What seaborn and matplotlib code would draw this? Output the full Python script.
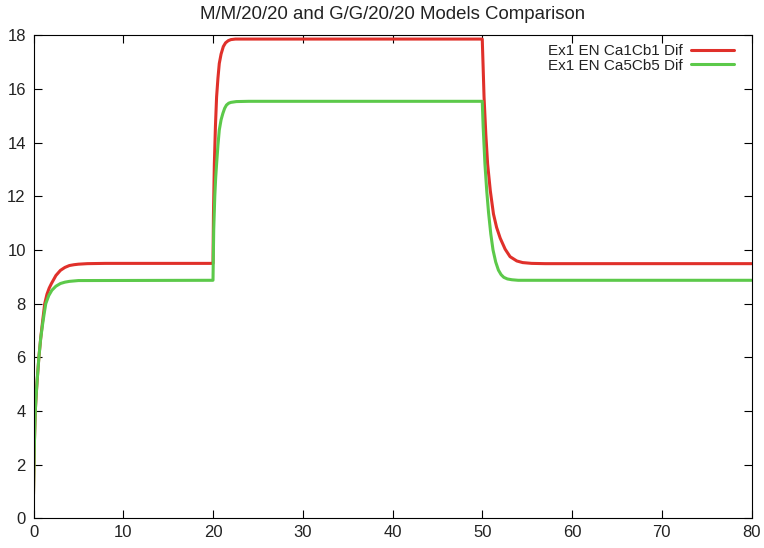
import matplotlib
matplotlib.use("Agg")
import matplotlib.pyplot as plt
import seaborn as sns
import pandas as pd

# ---- data ----
red_label = "Ex1 EN Ca1Cb1 Dif"
green_label = "Ex1 EN Ca5Cb5 Dif"

red_x = [0, 0.1, 0.2, 0.3, 0.4, 0.6, 0.8, 1.0, 1.25, 1.5, 1.75, 2.0, 2.5, 3.0, 3.5, 4.0, 4.5, 5.0, 6.0, 8.0,
         20.0, 20.05, 20.15, 20.27, 20.4, 20.55, 20.7, 20.9, 21.15, 21.4, 21.7, 22.0, 22.5, 24.0,
         50.0, 50.1, 50.2, 50.4, 50.6, 50.9, 51.25, 51.6, 52.0, 52.55, 53.1, 53.85, 54.5, 55.5, 57.0, 80.0]
red_y = [0.9, 2.8, 4.0, 4.6, 5.1, 6.0, 6.7, 7.3, 8.0, 8.35, 8.58, 8.75, 9.05, 9.24, 9.35, 9.42, 9.45, 9.47, 9.49, 9.5,
         9.5, 11.3, 13.2, 14.6, 15.7, 16.4, 16.95, 17.3, 17.58, 17.72, 17.8, 17.84, 17.86, 17.86,
         17.86, 16.8, 15.7, 14.3, 13.2, 12.2, 11.34, 10.84, 10.44, 10.03, 9.75, 9.59, 9.53, 9.5, 9.49, 9.49]

green_x = [0, 0.1, 0.2, 0.3, 0.4, 0.6, 0.8, 1.0, 1.2, 1.37, 1.7, 2.05, 2.5, 3.0, 3.5, 4.0, 5.0,
           20.0, 20.08, 20.2, 20.3, 20.4, 20.55, 20.7, 20.9, 21.1, 21.3, 21.5, 21.75, 22.0, 22.6, 24.0,
           50.0, 50.1, 50.3, 50.5, 50.7, 50.95, 51.2, 51.5, 51.8, 52.1, 52.4, 52.8, 53.3, 54.0, 80.0]
green_y = [0.9, 2.8, 4.0, 4.6, 5.1, 6.0, 6.7, 7.2, 7.65, 8.0, 8.3, 8.5, 8.65, 8.75, 8.8, 8.83, 8.86,
           8.87, 10.75, 12.0, 12.7, 13.2, 13.9, 14.47, 14.85, 15.09, 15.28, 15.4, 15.47, 15.5, 15.53, 15.54,
           15.54, 14.6, 13.2, 12.2, 11.4, 10.6, 10.0, 9.55, 9.25, 9.08, 8.98, 8.92, 8.89, 8.87, 8.87]

x_ticks = [0, 10, 20, 30, 40, 50, 60, 70, 80]
y_ticks = [0, 2, 4, 6, 8, 10, 12, 14, 16, 18]
title = "M/M/20/20 and G/G/20/20 Models Comparison"

# ---- build table ----
df = pd.concat([
    pd.DataFrame({"t": red_x, "v": red_y, "series": red_label}),
    pd.DataFrame({"t": green_x, "v": green_y, "series": green_label}),
], ignore_index=True)

sns.set_theme(style="ticks")
plt.rcParams["font.family"] = ["Liberation Sans", "DejaVu Sans"]

fig = plt.figure(figsize=(7.64, 5.48), dpi=100)
ax = fig.add_axes([33.5 / 764, 1 - 518.3 / 548, (751.5 - 33.5) / 764, (518.3 - 35.3) / 548])

palette = {red_label: "#e0302a", green_label: "#5cc94a"}
sns.lineplot(data=df, x="t", y="v", hue="series", palette=palette, sort=False,
             estimator=None, linewidth=2.2, ax=ax, legend=True)
for ln in ax.get_lines():
    ln.set_solid_joinstyle("round")
    ln.set_solid_capstyle("round")

ax.set_xlim(0, 80)
ax.set_ylim(0, 18)
ax.set_xticks(x_ticks)
ax.set_yticks(y_ticks)
ax.set_xlabel("")
ax.set_ylabel("")
for s in ax.spines.values():
    s.set_visible(True)
    s.set_color("black")
    s.set_linewidth(0.8)
ax.tick_params(direction="in", length=5.5, width=0.8, color="black",
               top=True, right=True, labelsize=12, labelcolor="#222222")
ax.tick_params(axis="x", pad=5)
ax.tick_params(axis="y", pad=5.5)
ax.grid(False)
ax.set_facecolor("white")

ax.set_title(title, fontsize=13.4, color="#222222", pad=12)

handles, labels = ax.get_legend_handles_labels()
leg = ax.legend(handles, labels, loc="upper right", bbox_to_anchor=(733.5 / 764, 1 - 44 / 548),
                bbox_transform=fig.transFigure, frameon=False, markerfirst=False,
                fontsize=11, handlelength=2.8, handletextpad=0.55, borderaxespad=0,
                borderpad=0, labelspacing=0.05)
for t in leg.get_texts():
    t.set_color("#222222")

fig.savefig("out.png", dpi=100)
